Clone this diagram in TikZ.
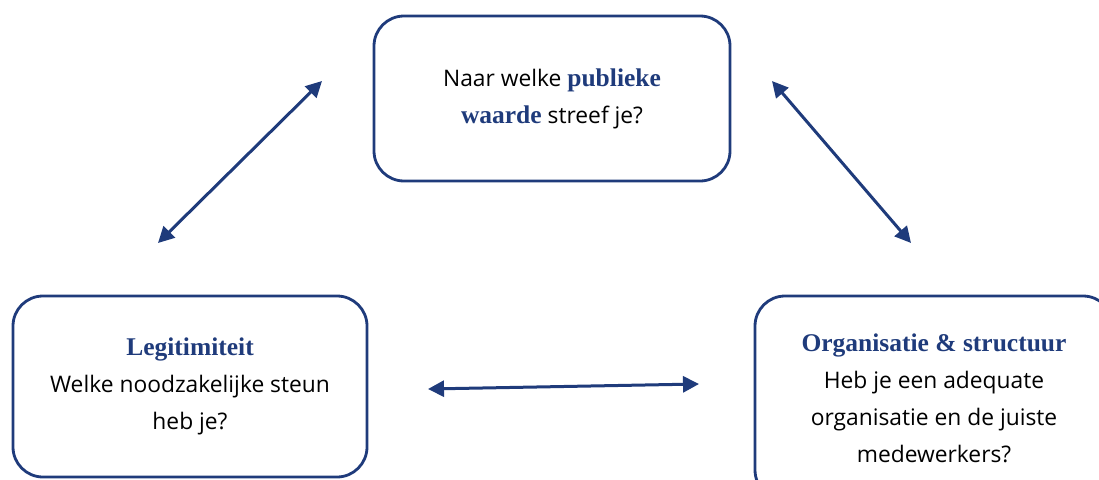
\documentclass[tikz,border=0pt]{standalone}
\usepackage{fontspec}
\setmainfont{Open Sans}
\newfontfamily\hdfont{Liberation Serif}
\usetikzlibrary{arrows.meta}
\definecolor{navy}{HTML}{1F3B7B}
\tikzset{
  qbox/.style={draw=navy, line width=2.8pt, rounded corners=30pt, align=center,
    inner sep=0pt, font=\fontsize{22.8}{37}\selectfont, text=black},
  link/.style={navy, line width=3pt, {Triangle[length=16pt,width=16pt]}-{Triangle[length=16pt,width=16pt]}},
}
\newcommand{\hd}[1]{{\hdfont\bfseries\fontsize{25.5}{37}\selectfont\color{navy}#1}}
\begin{document}
\begin{tikzpicture}[x=1pt,y=-1pt]
\useasboundingbox (0,0) rectangle (1099,479);
\clip (0,0) rectangle (1099,479);
\node[qbox, minimum width=356pt, minimum height=165pt] (pub) at (552,98.5)
  {Naar welke \hd{publieke}\\ \hd{waarde} streef je?};
\node[qbox, minimum width=354pt, minimum height=181pt] (leg) at (190,386.5)
  {\hd{Legitimiteit}\\ Welke noodzakelijke steun\\ heb je?};
\node[qbox, minimum width=358pt, minimum height=204pt] (org) at (934,398)
  {\hd{Organisatie \& structuur}\\ Heb je een adequate\\ organisatie en de juiste\\ medewerkers?};
\coordinate (a1) at (322,81);
\coordinate (a2) at (158,243);
\coordinate (b1) at (772,81);
\coordinate (b2) at (911,243);
\coordinate (c1) at (428,389);
\coordinate (c2) at (699,384);
\draw[link] (a1) -- (a2);
\draw[link] (b1) -- (b2);
\draw[link] (c1) -- (c2);
\end{tikzpicture}
\end{document}
